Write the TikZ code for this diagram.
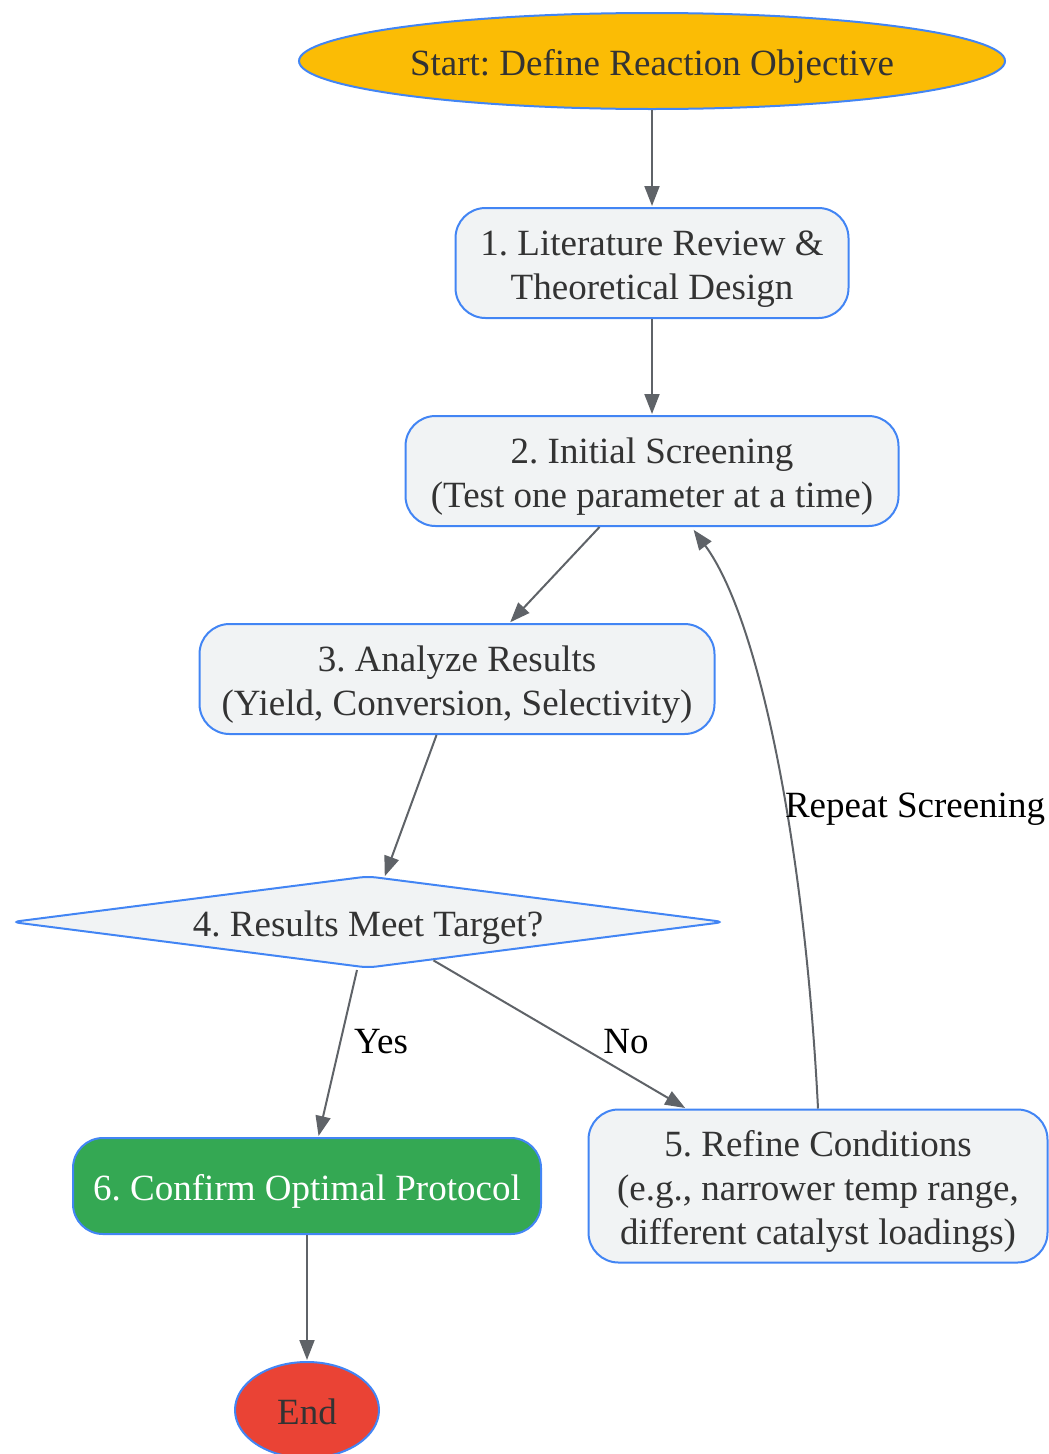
\documentclass[tikz,border=0pt]{standalone}
\usepackage{fontspec}
\setmainfont{Liberation Serif}
\usetikzlibrary{shapes.geometric,arrows.meta}
\definecolor{nodeblue}{HTML}{4285F4}
\definecolor{nodegray}{HTML}{F1F3F4}
\definecolor{startyellow}{HTML}{FBBC05}
\definecolor{okgreen}{HTML}{34A853}
\definecolor{endred}{HTML}{EA4335}
\definecolor{edgegray}{HTML}{5F6368}
\definecolor{txt}{HTML}{333333}
\frenchspacing
\newcommand\mytstrut{\rule{0pt}{37pt}}
\newcommand\mybstrut{\rule[-9pt]{0pt}{9pt}}
\begin{document}
\begin{tikzpicture}[x=1pt,y=-1pt,
  struts/.style={execute at begin node={\mytstrut},execute at end node={\mybstrut}},
  base/.style={draw=nodeblue,line width=2pt,text=txt,font=\fontsize{37}{44}\selectfont,align=center,inner sep=0pt},
  boxnode/.style={base,rectangle,rounded corners=30pt,fill=nodegray},
  arr/.style={draw=edgegray,line width=2pt,-{Triangle[length=20pt,width=15pt]},shorten >=1pt},
  lbl/.style={font=\fontsize{37}{44}\selectfont,text=black,inner sep=0pt,struts}
]
\useasboundingbox (0,0) rectangle (1049,1454);
\node[base,struts,ellipse,fill=startyellow,minimum width=706pt,minimum height=96pt] (s) at (652,61) {Start: Define Reaction Objective};
\node[boxnode,minimum width=393pt,minimum height=110pt] (n1) at (652,263) {\mytstrut1. Literature Review \&\\Theoretical Design\mybstrut};
\node[boxnode,minimum width=493pt,minimum height=110pt] (n2) at (652,471) {\mytstrut2. Initial Screening\\(Test one parameter at a time)\mybstrut};
\node[boxnode,minimum width=515pt,minimum height=110pt] (n3) at (457,679) {\mytstrut3. Analyze Results\\(Yield, Conversion, Selectivity)\mybstrut};
\node[base,struts,diamond,fill=nodegray,minimum width=713pt,minimum height=92pt,aspect=7.75,rounded corners=8pt] (n4) at (368,922) {4. Results Meet Target?};
\node[boxnode,minimum width=459pt,minimum height=153pt] (n5) at (818,1186) {\mytstrut5. Refine Conditions\\(e.g., narrower temp range,\\different catalyst loadings)\mybstrut};
\node[boxnode,struts,fill=okgreen,text=white,minimum width=468pt,minimum height=96pt] (n6) at (307,1186) {6. Confirm Optimal Protocol};
\node[base,struts,ellipse,fill=endred,minimum width=144pt,minimum height=96pt] (e) at (307,1410) {End};

\draw[arr] (s) -- (n1);
\draw[arr] (n1) -- (n2);
\draw[arr] (n2) -- (n3);
\draw[arr] (n3) -- (n4);
\draw[arr] ([xshift=-11pt,yshift=-1pt]n4.south) -- (n6);
\node[lbl] (ly) at (381,1039) {Yes};
\draw[arr] (n4) -- (n5);
\node[lbl] (ln) at (626,1039) {No};
\draw[arr] (n5.north) .. controls (805,850) and (760,620) .. (693,529);
\node[lbl] (lr) at (915,803) {Repeat Screening};
\draw[arr] (n6) -- (e);
\end{tikzpicture}
\end{document}
